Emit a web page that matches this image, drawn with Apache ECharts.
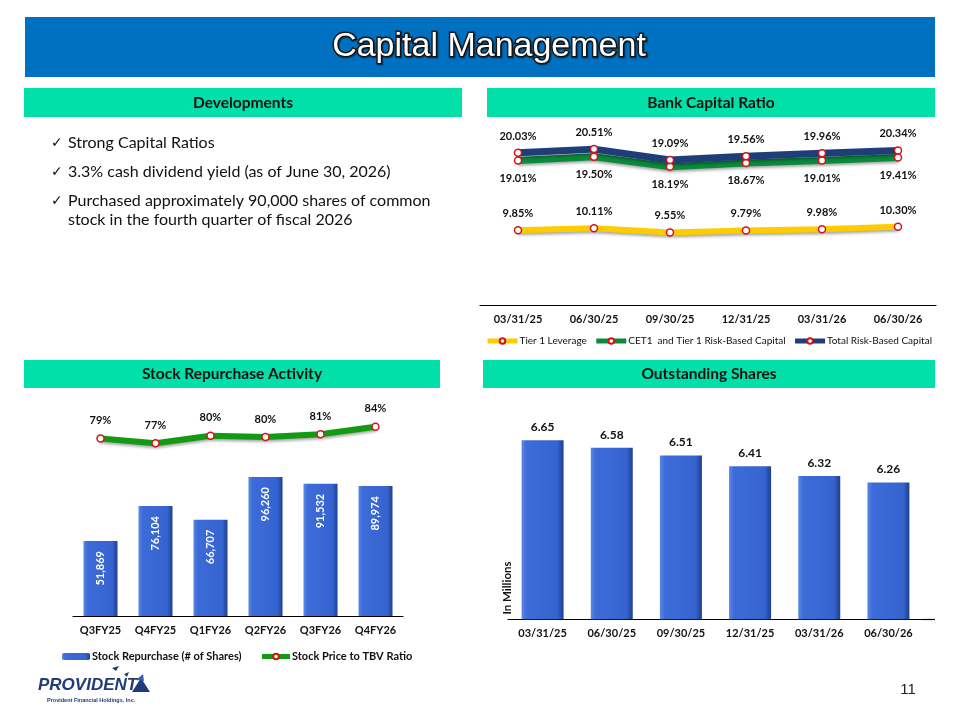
<!DOCTYPE html>
<html><head><meta charset="utf-8">
<script src="https://cdn.jsdelivr.net/npm/echarts@6/dist/echarts.min.js"></script>
<style>html,body{margin:0;padding:0;background:#fff}#c{width:960px;height:720px}</style>
</head><body><div id="c"></div>
<script>
// ---- data ----
const capitalDates = ['03/31/25','06/30/25','09/30/25','12/31/25','03/31/26','06/30/26'];
const tier1Leverage = [9.85, 10.11, 9.55, 9.79, 9.98, 10.30];
const cet1Capital = [19.01, 19.50, 18.19, 18.67, 19.01, 19.41];
const totalRiskBased = [20.03, 20.51, 19.09, 19.56, 19.96, 20.34];
const quarters = ['Q3FY25','Q4FY25','Q1FY26','Q2FY26','Q3FY26','Q4FY26'];
const sharesRepurchased = [51869, 76104, 66707, 96260, 91532, 89974];
const priceToTbv = [79.0, 77.0, 80.2, 79.6, 80.8, 84.0];
const shareDates = ['03/31/25','06/30/25','09/30/25','12/31/25','03/31/26','06/30/26'];
const sharesOutstanding = [6.65, 6.58, 6.51, 6.41, 6.32, 6.26];
const bulletLines = [
  'Strong Capital Ratios',
  '3.3% cash dividend yield (as of June 30, 2026)',
  'Purchased approximately 90,000 shares of common',
  'stock in the fourth quarter of fiscal 2026'
];
const panelTitles = ['Developments','Bank Capital Ratio','Stock Repurchase Activity','Outstanding Shares'];

// ---- styles ----
const FONT = 'Lato, "Noto Sans", sans-serif';
const HEAD = '#00E0A8';
const barGrad = {type:'linear',x:0,y:0,x2:1,y2:0,colorStops:[
  {offset:0,color:'#5A88E6'},{offset:0.12,color:'#3D6CD8'},{offset:0.85,color:'#3563CF'},{offset:1,color:'#1F3F90'}]};
const marker = {color:'#fff', borderColor:'#D01515', borderWidth:1.5};
const lineShadow = {shadowColor:'rgba(0,0,0,0.35)', shadowBlur:3, shadowOffsetY:2};
const lblStyle = {color:'#111', fontFamily:FONT, fontSize:11, fontWeight:'bold'};

function header(x,y,w,h,text){
  return [
    {type:'rect', shape:{x:x,y:y,width:w,height:h}, style:{fill:HEAD}},
    {type:'text', x:x+w/2, y:y+h/2, style:{text:text, fill:'#111', font:'bold 15.5px '+FONT, textAlign:'center', textVerticalAlign:'middle'}}
  ];
}

const graphics = [
  {type:'rect', shape:{x:25,y:17,width:910,height:60}, style:{fill:'#0070C0'}},
  {type:'text', x:489, y:47, style:{text:'Capital Management', fill:'#fff', stroke:'#1a1a1a', lineWidth:3,
     font:'34px "Liberation Sans", Arial, sans-serif', textAlign:'center', textVerticalAlign:'middle',
     textShadowColor:'rgba(0,0,0,0.4)', textShadowOffsetX:1, textShadowOffsetY:1, textShadowBlur:1}},
  ...header(24,88,438,29,panelTitles[0]),
  ...header(487,88,448,29,panelTitles[1]),
  ...header(24,360,416,28,panelTitles[2]),
  ...header(483,360,452,28,panelTitles[3]),
  {type:'text', x:507, y:588, rotation:Math.PI/2, style:{text:'In Millions', fill:'#111', font:'bold 11.5px '+FONT, textAlign:'center', textVerticalAlign:'middle'}},
  {type:'line', shape:{x1:923,y1:619.5,x2:935,y2:619.5}, style:{stroke:'#000', lineWidth:1.2}},
  {type:'text', x:908, y:690, style:{text:'11', fill:'#222', font:'15px "Liberation Sans", Arial, sans-serif', textAlign:'center', textVerticalAlign:'middle'}},
  {type:'text', x:38, y:685, style:{text:'PROVIDENT', fill:'#1F3B78', font:'italic bold 17px "Liberation Sans", Arial, sans-serif', textAlign:'left', textVerticalAlign:'middle'}},
  {type:'text', x:47, y:700, style:{text:'Provident Financial Holdings, Inc.', fill:'#1F3B78', font:'bold 5.5px "Liberation Sans", Arial, sans-serif', textAlign:'left', textVerticalAlign:'middle'}},
  {type:'polygon', shape:{points:[[132,692],[141,678],[150,692]]}, style:{fill:'#1F3B78'}},
  {type:'polygon', shape:{points:[[136,680],[143,674],[144,681]]}, style:{fill:'#3A5FA8'}},
  {type:'polygon', shape:{points:[[112,668],[119,666],[116,671]]}, style:{fill:'#1F3B78'}},
  {type:'polygon', shape:{points:[[124,674],[129,672],[127,677]]}, style:{fill:'#1F3B78'}}
];
bulletLines.forEach((t,i)=>{
  const ys=[143,172,201,220];
  if(i<3) graphics.push({type:'text', x:51, y:ys[i], style:{text:'\u2713', fill:'#111', font:'14px "DejaVu Sans", sans-serif', textAlign:'left', textVerticalAlign:'middle'}});
  graphics.push({type:'text', x:68, y:ys[i], style:{text:t, fill:'#111', font:'16px '+FONT, textAlign:'left', textVerticalAlign:'middle'}});
});

const catAxis = (gi, data, show) => ({
  type:'category', gridIndex:gi, data:data, boundaryGap:true, show:show,
  axisLine:{show:true, lineStyle:{color:'#000', width:1.2}}, axisTick:{show:false},
  axisLabel:{color:'#111', fontFamily:FONT, fontSize:11, fontWeight:'bold', margin:9}
});
const valAxis = (gi, min, max) => ({type:'value', gridIndex:gi, min:min, max:max, show:false, splitLine:{show:false}});

const option = {
  animation:false,
  backgroundColor:'#fff',
  graphic:graphics,
  grid:[
    {left:480, top:115, width:456, height:190},
    {left:73, top:471.6, width:330, height:144.4},
    {left:73, top:412.5, width:330, height:71},
    {left:508, top:402.3, width:415, height:217}
  ],
  xAxis:[catAxis(0,capitalDates,true), catAxis(1,quarters,true), catAxis(2,quarters,false), catAxis(3,shareDates,true)],
  yAxis:[valAxis(0,0,25), valAxis(1,0,100000), valAxis(2,60,90), valAxis(3,5,7)],
  legend:[
    {left:485, top:336, padding:0, itemWidth:30, itemHeight:7, itemGap:7,
     lineStyle:{width:5},
     data:['Tier 1 Leverage','CET1  and Tier 1 Risk-Based Capital','Total Risk-Based Capital'],
     textStyle:{color:'#111', fontFamily:FONT, fontSize:10, fontWeight:'normal', padding:[0,0,0,-3]}},
    {left:62, top:651, padding:0, itemWidth:28, itemHeight:7, itemGap:18,
     lineStyle:{width:5},
     data:['Stock Repurchase (# of Shares)','Stock Price to TBV Ratio'],
     textStyle:{color:'#111', fontFamily:FONT, fontSize:11, fontWeight:'bold', padding:[0,0,0,-3]}}
  ],
  series:[
    {name:'Tier 1 Leverage', type:'line', xAxisIndex:0, yAxisIndex:0, data:tier1Leverage,
     symbol:'circle', symbolSize:7, itemStyle:marker, lineStyle:Object.assign({color:'#FFCC00', width:6}, lineShadow),
     label:Object.assign({show:true, position:'top', distance:7, formatter:p=>p.value.toFixed(2)+'%'}, lblStyle)},
    {name:'CET1  and Tier 1 Risk-Based Capital', type:'line', xAxisIndex:0, yAxisIndex:0, data:cet1Capital,
     symbol:'circle', symbolSize:7, itemStyle:marker, lineStyle:Object.assign({color:'#0B8A3C', width:7}, lineShadow),
     label:Object.assign({show:true, position:'bottom', distance:8, formatter:p=>p.value.toFixed(2)+'%'}, lblStyle)},
    {name:'Total Risk-Based Capital', type:'line', xAxisIndex:0, yAxisIndex:0, data:totalRiskBased,
     symbol:'circle', symbolSize:7, itemStyle:marker, lineStyle:Object.assign({color:'#1F3D78', width:7}, lineShadow),
     label:Object.assign({show:true, position:'top', distance:7, formatter:p=>p.value.toFixed(2)+'%'}, lblStyle)},
    {name:'Stock Repurchase (# of Shares)', type:'bar', xAxisIndex:1, yAxisIndex:1, data:sharesRepurchased,
     barWidth:34, itemStyle:{color:barGrad},
     label:{show:true, position:'insideTop', rotate:90, align:'right', verticalAlign:'middle', distance:10,
            color:'#fff', fontFamily:FONT, fontSize:11, fontWeight:'bold', formatter:p=>p.value.toLocaleString('en-US')}},
    {name:'Stock Price to TBV Ratio', type:'line', xAxisIndex:2, yAxisIndex:2, data:priceToTbv,
     symbol:'circle', symbolSize:7, itemStyle:marker, lineStyle:Object.assign({color:'#129A12', width:6}, lineShadow),
     label:Object.assign({show:true, position:'top', distance:8, formatter:p=>Math.round(p.value)+'%'}, lblStyle)},
    {name:'Outstanding Shares', type:'bar', xAxisIndex:3, yAxisIndex:3, data:sharesOutstanding,
     barWidth:42, itemStyle:{color:barGrad},
     label:{show:true, position:'top', distance:7, color:'#111', fontFamily:FONT, fontSize:12, fontWeight:'bold', formatter:p=>p.value.toFixed(2)}}
  ]
};
const chart = echarts.init(document.getElementById('c'), null, {renderer:'canvas'});
chart.setOption(option);
</script></body></html>
